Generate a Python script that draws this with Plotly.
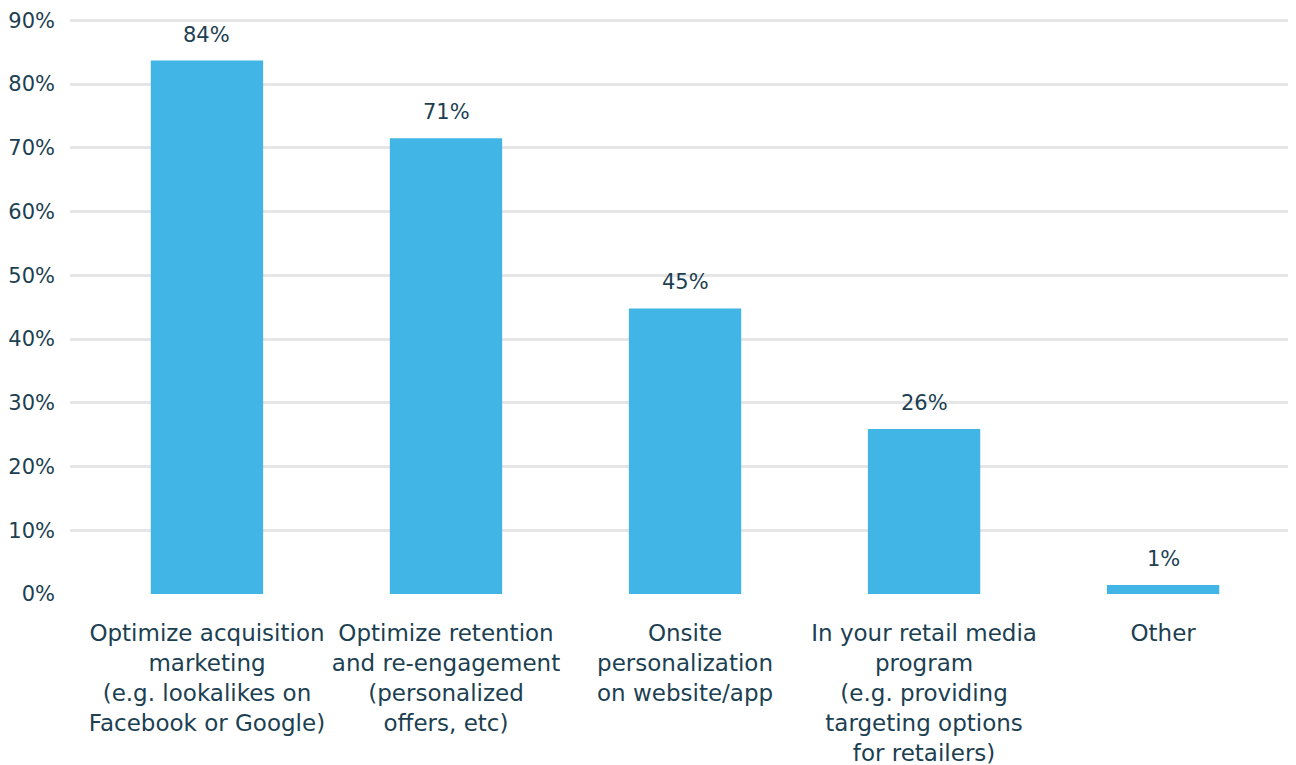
import plotly.graph_objects as go

categories = [
    "Optimize acquisition<br>marketing<br>(e.g. lookalikes on<br>Facebook or Google)",
    "Optimize retention<br>and re-engagement<br>(personalized<br>offers, etc)",
    "Onsite<br>personalization<br>on website/app",
    "In your retail media<br>program<br>(e.g. providing<br>targeting options<br>for retailers)",
    "Other",
]
values = [83.7, 71.5, 44.8, 25.9, 1.4]
labels = ["84%", "71%", "45%", "26%", "1%"]
tick_vals = [0, 10, 20, 30, 40, 50, 60, 70, 80, 90]
tick_text = ["0%", "10%", "20%", "30%", "40%", "50%", "60%", "70%", "80%", "90%"]

TEXT = "#1c3f52"
FONT = "DejaVu Sans"

fig = go.Figure()
fig.add_trace(go.Bar(
    x=list(range(len(categories))), y=values,
    marker=dict(color="#41b5e6", line=dict(width=0)),
    width=0.47,
))
for i, (v, t) in enumerate(zip(values, labels)):
    fig.add_annotation(x=i, y=v, text=t, showarrow=False, yanchor="bottom",
                       yshift=12, font=dict(family=FONT, size=21, color=TEXT))

fig.update_layout(
    width=1288, height=757,
    margin=dict(l=62, r=0, t=6, b=171, autoexpand=False),
    paper_bgcolor="white", plot_bgcolor="white",
    showlegend=False,
    font=dict(family=FONT, size=21, color=TEXT),
    xaxis=dict(
        tickmode="array", tickvals=list(range(len(categories))), ticktext=categories,
        range=[-0.573, 4.556], showgrid=False, zeroline=False, showline=False,
        ticks="", ticklabelstandoff=23, automargin=False,
        tickfont=dict(family=FONT, size=23, color=TEXT),
    ),
    yaxis=dict(
        range=[0, 91], tickmode="array", tickvals=tick_vals, ticktext=tick_text,
        showgrid=True, gridcolor="#e6e6e6", gridwidth=2.5,
        zeroline=False, showline=False, ticks="", automargin=False,
        tickfont=dict(family=FONT, size=21, color=TEXT),
        ticklabelstandoff=14,
    ),
)
fig.write_html("out.html")
